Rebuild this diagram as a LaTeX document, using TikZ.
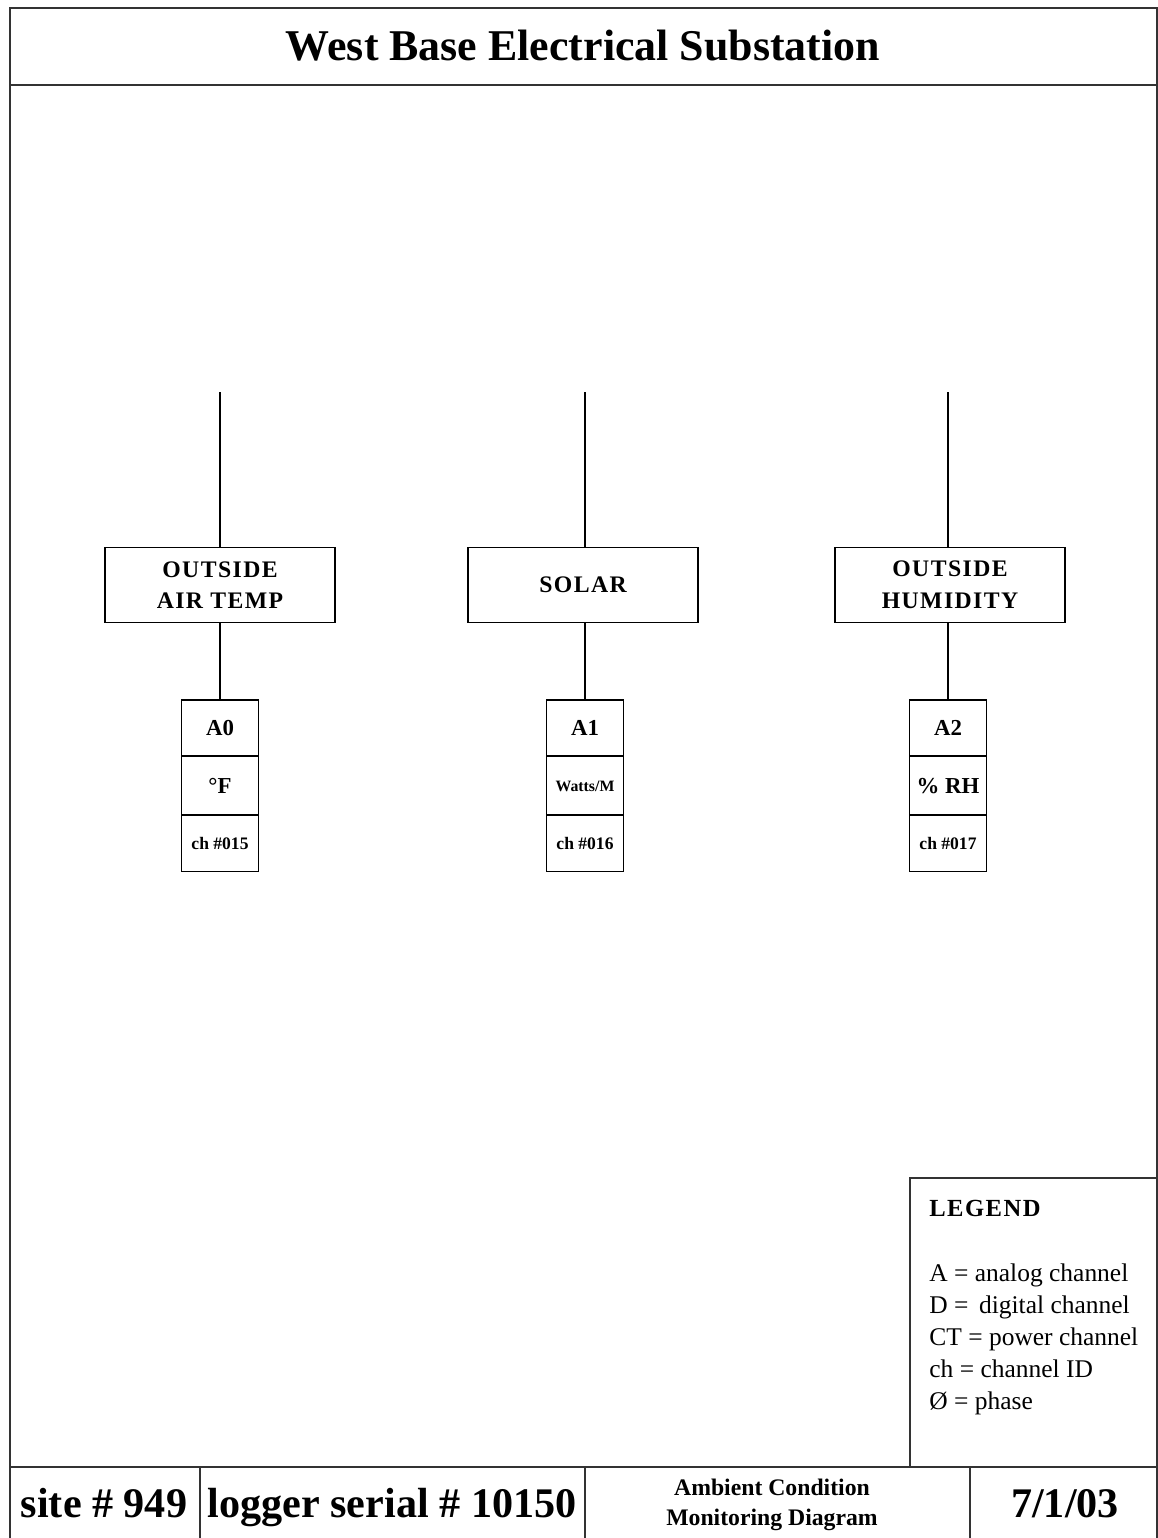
\documentclass[tikz,border=0pt]{standalone}
\usepackage{fontspec}
\setmainfont{Liberation Serif}
\newfontfamily\spacedfont[LetterSpace=6]{Liberation Serif}
\usetikzlibrary{positioning}
\tikzset{frame/.style = {draw=black!80, line width=1.2pt}}
\tikzset{sensorbox/.style = {rectangle, draw, thick, align=center, minimum width=4.6cm,
                             minimum height=1.5cm, inner sep=0,
                             font=\spacedfont\fontsize{13.5}{18}\selectfont\bfseries}}
\tikzset{chancell/.style = {rectangle, draw, thick, minimum width=1.54cm, inner sep=0,
                            font=\fontsize{13}{14}\selectfont\bfseries}}
\tikzset{legendtxt/.style = {anchor=base west, inner sep=0, font=\fontsize{14.5}{16}\selectfont}}
\tikzset{footer/.style = {anchor=base, inner sep=0, font=\fontsize{24}{26}\selectfont\bfseries}}

\begin{document}
\begin{tikzpicture}[x=0.02cm, y=-0.02cm]
    \useasboundingbox (0,0) rectangle (1158,1538);

    % border and title band
    \draw [frame] (10,1538) -- (10,8) -- (1157,8) -- (1157,1538);
    \draw [frame] (10,85) -- (1157,85);
    \node [anchor=base, inner sep=0, font=\fontsize{25}{28}\selectfont\bfseries] (title) at (583,60)
          {West Base Electrical Substation};

    % sensors
    \coordinate (top0) at (220,392);
    \coordinate (top1) at (585,392);
    \coordinate (top2) at (948,392);
    \node [sensorbox] (sens0) at (220,585) {OUTSIDE\\AIR TEMP};
    \node [sensorbox] (sens1) at (583,585) {SOLAR};
    \node [sensorbox] (sens2) at (950,585) {OUTSIDE\\HUMIDITY};

    % channel cells
    \node [chancell, minimum height=1.12cm] (ch0a) at (220,728) {A0};
    \node [chancell, minimum height=1.18cm] (ch0b) at (220,786) {\textdegree F};
    \node [chancell, minimum height=1.14cm, font=\fontsize{10}{11}\selectfont\bfseries] (ch0c) at (220,843) {ch \#015};
    \node [chancell, minimum height=1.12cm] (ch1a) at (585,728) {A1};
    \node [chancell, minimum height=1.18cm, font=\fontsize{9}{10}\selectfont\bfseries] (ch1b) at (585,786) {Watts/M};
    \node [chancell, minimum height=1.14cm, font=\fontsize{10}{11}\selectfont\bfseries] (ch1c) at (585,843) {ch \#016};
    \node [chancell, minimum height=1.12cm] (ch2a) at (948,728) {A2};
    \node [chancell, minimum height=1.18cm] (ch2b) at (948,786) {\% RH};
    \node [chancell, minimum height=1.14cm, font=\fontsize{10}{11}\selectfont\bfseries] (ch2c) at (948,843) {ch \#017};

    \draw [thick] (top0) -- (top0 |- sens0.north);
    \draw [thick] (top1) -- (top1 |- sens1.north);
    \draw [thick] (top2) -- (top2 |- sens2.north);
    \draw [thick] (sens0.south -| ch0a) -- (ch0a);
    \draw [thick] (sens1.south -| ch1a) -- (ch1a);
    \draw [thick] (sens2.south -| ch2a) -- (ch2a);

    % legend
    \draw [frame] (910,1467) -- (910,1178) -- (1157,1178);
    \node [legendtxt, font=\spacedfont\fontsize{14}{16}\selectfont\bfseries] (leghead) at (929,1216) {LEGEND};
    \node [legendtxt] (leg1) at (929,1281) {A = analog channel};
    \node [legendtxt] (leg2) at (929,1313) {D = \,digital channel};
    \node [legendtxt] (leg3) at (929,1345) {CT = power channel};
    \node [legendtxt] (leg4) at (929,1377) {ch = channel ID};
    \node [legendtxt] (leg5) at (929,1409) {Ø = phase};

    % title block
    \draw [frame] (10,1467) -- (1157,1467);
    \draw [frame] (200,1467) -- (200,1538);
    \draw [frame] (585,1467) -- (585,1538);
    \draw [frame] (970,1467) -- (970,1538);
    \node [footer] (site) at (104,1517) {site \# 949};
    \node [footer] (logger) at (392,1517) {logger serial \# 10150};
    \node [inner sep=0, align=center, font=\fontsize{13.5}{17}\selectfont\bfseries] (kind) at (772,1505)
          {Ambient Condition\\Monitoring Diagram};
    \node [footer] (date) at (1065,1517) {7/1/03};
\end{tikzpicture}
\end{document}
